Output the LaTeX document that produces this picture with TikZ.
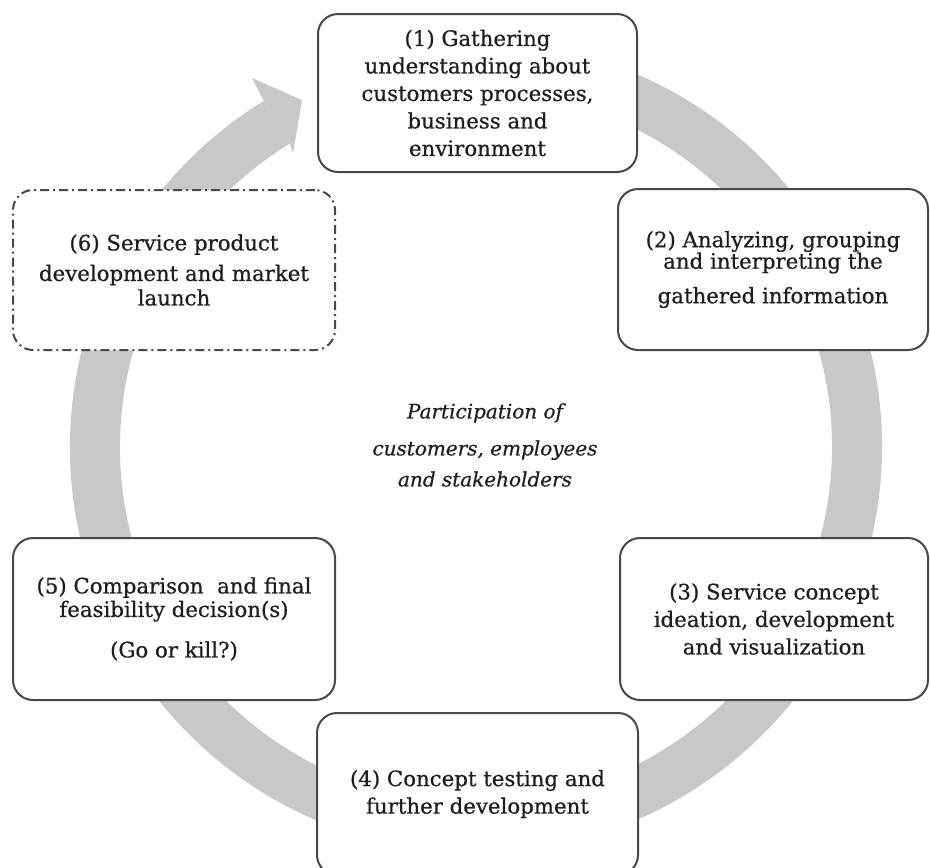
\documentclass[tikz,border=0pt]{standalone}
\usepackage{fontspec}
\setmainfont{DejaVu Serif}[FakeBold=0.6, ItalicFeatures={FakeBold=0.6}]
\definecolor{ringgray}{RGB}{200,200,200}
\definecolor{boxline}{RGB}{72,72,72}
\definecolor{textcol}{RGB}{30,30,30}
\begin{document}
\begin{tikzpicture}[x=1pt,y=1pt,
  stage/.style={draw=boxline, line width=2pt, rounded corners=20pt,
    fill=white, align=center, text=textcol, inner sep=0pt,
    font=\fontsize{21.3}{27.5}\selectfont},
  openstage/.style={stage, dash pattern=on 9pt off 4pt on 2pt off 4pt},
  note/.style={align=center, text=textcol, font=\fontsize{20}{33}\selectfont\itshape}]
\clip (0,0) rectangle (930,-868);
\coordinate (c) at (476,-447);

% grey cycle arrow running clockwise round the stages
\fill[ringgray] (c) ++(80:406) arc[start angle=80, end angle=-238.5, radius=406]
  -- (290,-143.5) arc[start angle=-238.5, end angle=80, radius=356] -- cycle;
\fill[ringgray] (264,-101) -- (252,-78) -- (302,-100) -- (293,-153) -- (290,-143.5) -- cycle;

% stages
\node[stage, minimum width=319pt, minimum height=158pt] (s1) at (477.5,-93)
  {(1) Gathering\\understanding about\\customers processes,\\business and\\environment};
\node[stage, minimum width=310pt, minimum height=161pt] (s2) at (773,-269.5)
  {(2) Analyzing, grouping\\[-6pt]and interpreting the\\[7pt]gathered information};
\node[stage, minimum width=308pt, minimum height=162pt] (s3) at (774,-619)
  {(3) Service concept\\ideation, development\\and visualization};
\node[stage, minimum width=321pt, minimum height=162pt] (s4) at (477.5,-794)
  {(4) Concept testing and\\further development};
\node[stage, minimum width=322pt, minimum height=162pt] (s5) at (174,-619)
  {(5) Comparison\ \ and final\\[-4pt]feasibility decision(s)\\[13pt](Go or kill?)};
\node[openstage, minimum width=322pt, minimum height=160pt] (s6) at (174,-270)
  {(6) Service product\\[3pt]development and market\\[-3pt]launch};

% centre note
\node[note] (centre) at (485,-445)
  {Participation of\\[4pt]customers, employees\\[-2pt]and stakeholders};
\end{tikzpicture}
\end{document}
